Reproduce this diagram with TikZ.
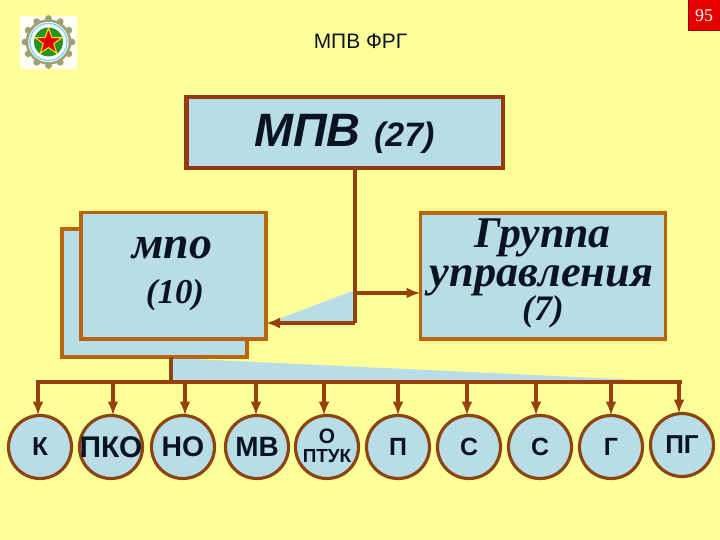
\documentclass[tikz,border=0pt]{standalone}
\usepackage{fontspec}
\setmainfont{Liberation Sans}
\newfontfamily\serifface{Liberation Serif}
\usetikzlibrary{arrows.meta}
\definecolor{bgyellow}{HTML}{FFFF99}
\definecolor{paleblue}{HTML}{B9DDE6}
\definecolor{boxedge}{HTML}{B8650F}
\definecolor{darkedge}{HTML}{8B4513}
\definecolor{topedge}{HTML}{933A10}
\definecolor{linebrown}{HTML}{96400C}
\definecolor{inkblack}{HTML}{0A1420}
\definecolor{gearcol}{HTML}{A0A070}
\newcommand{\lowered}[2]{\fontsize{#1}{#1}\selectfont\raisebox{-2bp}{#2}}
\newcommand{\wideover}[2]{\fontsize{#1}{#1}\selectfont\makebox[0pt]{#2}}
\tikzset{
  box/.style={draw=boxedge,line width=3.4pt,fill=paleblue,inner sep=0pt,outer sep=0pt},
  topbox/.style={draw=topedge,line width=4.6pt,fill=paleblue,inner sep=0pt,outer sep=0pt},
  unit/.style={circle,draw=darkedge,line width=3.2pt,fill=paleblue,minimum size=63bp,inner sep=0pt,outer sep=0pt,text=inkblack,font=\fontsize{26}{26}\selectfont\bfseries},
  link/.style={draw=linebrown,line width=3.4pt},
  linkarrow/.style={link,-{Latex[length=14bp,width=11bp]}},
  serifbig/.style={font=\serifface\bfseries\itshape,text=inkblack,inner sep=0pt}
}
\begin{document}
\begin{tikzpicture}[x=1bp,y=-1bp]
\useasboundingbox (0,0) rectangle (720,540);
\fill[bgyellow] (0,0) rectangle (720,540);

% page number
\node[draw=red!60!black,line width=1pt,fill=red!90!black,text=white,minimum width=32bp,minimum height=31bp,inner sep=0pt,outer sep=0pt,font=\serifface\fontsize{18}{18}\selectfont] (pg) at (704,15.5) {95};

% emblem
\fill[white!96!yellow] (20,16) rectangle (77,69);
\foreach \a in {0,30,...,330}
  \fill[gearcol] (48.5,42)++(\a:23.5) circle (3.4);
\draw[gearcol,line width=2.5pt] (48.5,42) circle (21.5);
\draw[blue!35!cyan!50!white,line width=1.4pt,fill=white] (48.5,42) circle (18.5);
\fill[green!50!black!85!white] (48.5,42) circle (14.5);
\fill[red!90!black,draw=yellow!85!orange,line width=1pt]
  (48.5,28)--(51.8,37.5)--(61.8,37.7)--(53.8,43.7)--(56.7,53.3)--(48.5,47.5)--(40.3,53.3)--(43.2,43.7)--(35.2,37.7)--(45.2,37.5)--cycle;

% title
\node[text=inkblack,inner sep=0pt,font=\fontsize{21}{21}\selectfont] (title) at (360.5,41) {МПВ ФРГ};

% shadows between elements
\fill[paleblue] (355,290) -- (355,323) -- (268,323) -- cycle;
\fill[paleblue] (171,358) -- (640,380) -- (640,381) -- (171,381) -- cycle;

% boxes
\node[box,anchor=north west,minimum width=185bp,minimum height=128bp] (back) at (62,229) {};
\node[box,anchor=north west,minimum width=185bp,minimum height=126.5bp] (mpo) at (81,212.5) {};
\node[box,anchor=north west,minimum width=245bp,minimum height=126bp] (grp) at (420.5,213) {};
\node[topbox,anchor=north west,minimum width=316.5bp,minimum height=71bp] (top) at (186.5,97) {};

\node[inner sep=0pt,text=inkblack,anchor=base west,font=\fontsize{47}{47}\selectfont\bfseries\itshape] (toplab) at (254,147) {МПВ};
\node[inner sep=0pt,text=inkblack,anchor=base west,font=\fontsize{34}{34}\selectfont\bfseries\itshape] (topnum) at (374,147) {(27)};

\node[serifbig,anchor=base] (mpolab1) at (172.5,259) {\fontsize{46}{46}\selectfont мпо};
\node[serifbig,anchor=base] (mpolab2) at (175,303) {\fontsize{35}{35}\selectfont (10)};
\node[serifbig,anchor=base] (grplab1) at (542.5,248) {\fontsize{44}{44}\selectfont Группа};
\node[serifbig,anchor=base] (grplab2) at (541.5,287) {\fontsize{44.5}{44.5}\selectfont управления};
\node[serifbig,anchor=base] (grplab3) at (543,320) {\fontsize{36}{36}\selectfont (7)};

% circles
\node[unit] (c1) at (40,447) {К};
\node[unit] (c2) at (111,447) {\wideover{30}{ПКО}};
\node[unit] (c3) at (183,447) {\wideover{28.5}{НО}};
\node[unit] (c4) at (257,447) {\wideover{28}{МВ}};
\node[unit] (c5) at (327,447) {};
\node[inner sep=0pt,text=inkblack,font=\fontsize{21}{21}\selectfont\bfseries] (c5a) at (327,436) {О};
\node[inner sep=0pt,text=inkblack,font=\fontsize{19}{19}\selectfont\bfseries] (c5b) at (327,456.5) {ПТУК};
\node[unit] (c6) at (398,447) {\lowered{25}{П}};
\node[unit] (c7) at (469,447) {\lowered{25}{С}};
\node[unit] (c8) at (540,447) {\lowered{25}{С}};
\node[unit] (c9) at (611,447) {\lowered{25}{Г}};
\node[unit] (c10) at (682,445) {\fontsize{26}{26}\selectfont ПГ};

% connectors from the top box
\coordinate (trunkturn) at (355,323);
\coordinate (trunkmid) at (355,293);
\draw[link,draw=darkedge,line width=4pt] (top.south -| trunkturn) -- (trunkturn);
\draw[linkarrow] (trunkmid) -- (grp.west |- trunkmid);
\draw[linkarrow] (trunkturn) -- (mpo.east |- trunkturn);

% bus
\coordinate (busL) at (38,382);
\coordinate (busR) at (680,382);
\coordinate (busJ) at (171,382);
\draw[link,line cap=butt] ([xshift=-1.7bp]busL) -- ([xshift=1.7bp]busR);
\draw[link,draw=darkedge] (back.south -| busJ) -- (busJ);
\foreach \n/\x in {c1/38,c2/113,c3/185,c4/256,c5/324,c6/398,c7/467,c8/536,c9/611,c10/679}{
  \coordinate (b\n) at (\x,382);
  \draw[linkarrow] (b\n) -- (b\n |- \n.north);
}
\end{tikzpicture}
\end{document}
